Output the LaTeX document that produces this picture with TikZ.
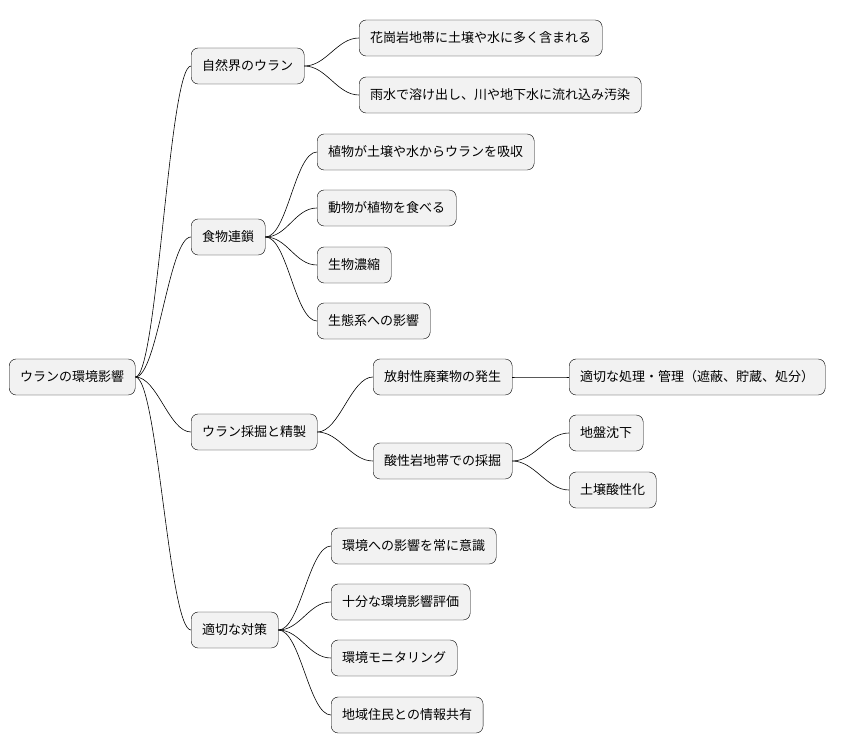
\documentclass[tikz,border=0pt]{standalone}
\usepackage{fontspec}
\newfontfamily\cjk{Noto Sans CJK JP}
\tikzset{
  topic/.style={draw=black, fill=gray!10, rounded corners=7pt, anchor=west,
    minimum height=36pt, inner xsep=11pt, font=\cjk\fontsize{13}{15}\selectfont},
  branch/.style={draw=black, line width=0.6pt}
}
\newcommand{\linkto}[2]{\draw[branch] (#1.east) .. controls +(22,0) and +(-22,0) .. (#2.west);}
\begin{document}
\begin{tikzpicture}[x=1pt,y=-1pt]
\useasboundingbox (0,0) rectangle (852,752);

\node[topic] (root) at (9,377) {ウランの環境影響};

\node[topic] (nature) at (191,66) {自然界のウラン};
\node[topic] (food) at (191,237) {食物連鎖};
\node[topic] (mine) at (191,432) {ウラン採掘と精製};
\node[topic] (measure) at (191,630) {適切な対策};

\node[topic] (granite) at (359,38) {花崗岩地帯に土壌や水に多く含まれる};
\node[topic] (rain) at (359,95) {雨水で溶け出し、川や地下水に流れ込み汚染};

\node[topic] (plant) at (317,152) {植物が土壌や水からウランを吸収};
\node[topic] (animal) at (317,208) {動物が植物を食べる};
\node[topic] (bioacc) at (317,265) {生物濃縮};
\node[topic] (eco) at (317,321) {生態系への影響};

\node[topic] (waste) at (373,377) {放射性廃棄物の発生};
\node[topic] (acid) at (373,461) {酸性岩地帯での採掘};
\node[topic] (treat) at (569,377) {適切な処理・管理（遮蔽、貯蔵、処分）};
\node[topic] (sink) at (569,433) {地盤沈下};
\node[topic] (soil) at (569,490) {土壌酸性化};

\node[topic] (aware) at (331,546) {環境への影響を常に意識};
\node[topic] (assess) at (331,602) {十分な環境影響評価};
\node[topic] (monitor) at (331,658) {環境モニタリング};
\node[topic] (share) at (331,715) {地域住民との情報共有};

% branches
\foreach \c in {nature,food,mine,measure} {\linkto{root}{\c}}
\foreach \c in {granite,rain} {\linkto{nature}{\c}}
\foreach \c in {plant,animal,bioacc,eco} {\linkto{food}{\c}}
\foreach \c in {waste,acid} {\linkto{mine}{\c}}
\linkto{waste}{treat}
\foreach \c in {sink,soil} {\linkto{acid}{\c}}
\foreach \c in {aware,assess,monitor,share} {\linkto{measure}{\c}}
\end{tikzpicture}
\end{document}
